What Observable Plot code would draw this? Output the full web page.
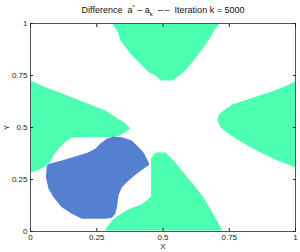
<!DOCTYPE html>
<html><head><meta charset="utf-8">
<script src="https://cdn.jsdelivr.net/npm/d3@7"></script>
<script src="https://cdn.jsdelivr.net/npm/@observablehq/plot@0.6"></script>
<style>html,body{margin:0;padding:0;background:#fff} svg{display:block}</style>
</head><body><div id="chart"></div>
<script>
const ticks = [0, 0.25, 0.5, 0.75, 1];
const tickLabels = ["0", "0.25", "0.5", "0.75", "1"];
const iteration = 5000;

// positive-difference regions (cyan-green)
const topShape = [[0.308,1],[0.327,0.966],[0.340,0.918],[0.377,0.854],[0.415,0.806],[0.446,0.766],[0.472,0.750],[0.491,0.726],[0.536,0.726],[0.578,0.766],[0.616,0.822],[0.654,0.886],[0.679,0.934],[0.698,0.975],[0.714,1]];
const leftShape = [[0,0.726],[0.049,0.697],[0.140,0.654],[0.215,0.615],[0.283,0.582],[0.328,0.543],[0.355,0.524],[0.377,0.495],[0.355,0.476],[0.336,0.462],[0.313,0.454],[0.155,0.452],[0.132,0.430],[0.106,0.399],[0.087,0.365],[0.075,0.337],[0.060,0.317],[0.038,0.300],[0,0.284]];
const rightShape = [[1,0.721],[0.955,0.695],[0.906,0.671],[0.830,0.639],[0.766,0.613],[0.728,0.582],[0.709,0.558],[0.706,0.534],[0.717,0.501],[0.743,0.474],[0.781,0.442],[0.819,0.413],[0.868,0.380],[0.932,0.341],[1,0.308]];
const bottomShape = [[0.455,0.351],[0.472,0.380],[0.509,0.380],[0.528,0.356],[0.547,0.332],[0.577,0.284],[0.615,0.226],[0.653,0.163],[0.691,0.082],[0.725,0.005],[0.283,0.005],[0.287,0.019],[0.313,0.060],[0.358,0.099],[0.396,0.120],[0.415,0.127],[0.438,0.149],[0.455,0.168]];
// negative-difference region (blue)
const blueShape = [[0.062,0.317],[0.068,0.325],[0.118,0.341],[0.181,0.365],[0.219,0.381],[0.244,0.398],[0.263,0.422],[0.288,0.446],[0.313,0.457],[0.345,0.453],[0.382,0.438],[0.408,0.405],[0.426,0.381],[0.439,0.350],[0.449,0.322],[0.408,0.285],[0.370,0.245],[0.345,0.213],[0.332,0.173],[0.326,0.117],[0.320,0.085],[0.307,0.066],[0.282,0.061],[0.194,0.061],[0.156,0.085],[0.118,0.117],[0.087,0.165],[0.068,0.205],[0.058,0.261]];

const regions = [
  {id: "top", level: "pos", pts: topShape},
  {id: "left", level: "pos", pts: leftShape},
  {id: "right", level: "pos", pts: rightShape},
  {id: "bottom", level: "pos", pts: bottomShape},
  {id: "blue", level: "neg", pts: blueShape}
];
const rows = regions.flatMap(r => r.pts.map(([x, y]) => ({x, y, id: r.id, level: r.level})));
const fmt = d => tickLabels[ticks.indexOf(d)];

const plot = Plot.plot({
  width: 300, height: 252,
  marginLeft: 30, marginRight: 5, marginTop: 23, marginBottom: 21,
  x: {domain: [0, 1]},
  y: {domain: [0, 1]},
  color: {domain: ["pos", "neg"], range: ["#4dffb0", "#5480cf"]},
  style: {fontFamily: "'Liberation Sans', Arial, sans-serif", fontSize: "8px", color: "#222", background: "#fff"},
  marks: [
    Plot.line(rows, {x: "x", y: "y", z: "id", fill: "level", stroke: "none", curve: "linear-closed"}),
    Plot.frame({stroke: "#555"}),
    Plot.axisX({ticks, tickFormat: fmt, tickSize: -3, tickPadding: 6, label: "X", labelAnchor: "center", labelArrow: "none", labelOffset: 17}),
    Plot.axisX({anchor: "top", ticks, tickFormat: () => "", tickSize: -3, label: null}),
    Plot.axisY({ticks, tickFormat: fmt, tickSize: -3, tickPadding: 6, label: "Y", labelAnchor: "center", labelArrow: "none", labelOffset: 27}),
    Plot.axisY({anchor: "right", ticks, tickFormat: () => "", tickSize: -3, label: null})
  ]
});

const svg = d3.select(plot);
const t = svg.append("text")
  .attr("x", 163).attr("y", 13)
  .attr("text-anchor", "middle")
  .attr("font-size", 9)
  .attr("fill", "#111");
t.append("tspan").text("Difference\u00a0\u00a0a");
t.append("tspan").attr("font-size", 6).attr("dy", -4).text("*");
t.append("tspan").attr("dy", 4).text("\u00a0\u2013\u00a0a");
t.append("tspan").attr("font-size", 6).attr("dy", 3).text("k");
t.append("tspan").attr("dy", -3).text(`\u00a0\u00a0\u2013\u2009\u2013\u00a0\u00a0Iteration k = ${iteration}`);

document.getElementById("chart").appendChild(plot);
</script>
</body></html>
